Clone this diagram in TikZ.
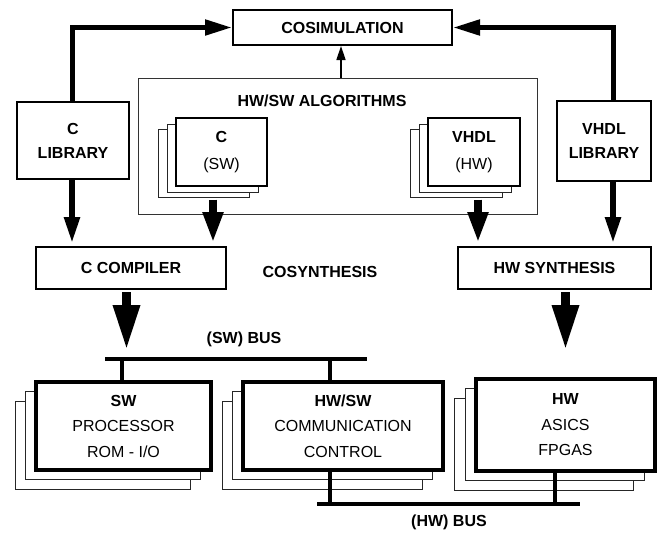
\documentclass[tikz,border=0pt]{standalone}
\usepackage{fontspec}
\setmainfont{Liberation Sans}
\usetikzlibrary{arrows.meta}
\begin{document}
\begin{tikzpicture}[x=1pt,y=-1pt,
  lbl/.style={font=\fontsize{16}{25}\selectfont\bfseries, align=center, inner sep=0pt},
  box/.style={draw, line width=2pt, fill=white, inner sep=0pt, align=center, font=\fontsize{16}{25}\selectfont},
  bigbox/.style={draw, line width=4pt, fill=white, inner sep=0pt, align=center, font=\fontsize{16}{25.5}\selectfont, minimum height=88},
  sbox/.style={draw=black!85, line width=1pt, fill=white, inner sep=0pt},
  elbow/.style={line width=5pt, -{Triangle[length=27pt,width=15pt]}},
  libdown/.style={line width=5.5pt, -{Triangle[length=26pt,width=15pt]}},
  midarrow/.style={line width=8pt, -{Triangle[length=31pt,width=19pt]}},
  fat/.style={line width=9pt, -{Triangle[length=45pt,width=25pt]}},
  thinarrow/.style={line width=1.5pt, -{Triangle[length=14pt,width=9pt]}},
  bus/.style={line width=4pt}
]
\useasboundingbox (0,0) rectangle (661,533);

% top
\node[box, minimum width=219, minimum height=35, font=\fontsize{16}{19}\selectfont\bfseries] (cosim) at (342.5,27.5) {COSIMULATION};
\node[box, minimum width=112, minimum height=77, font=\fontsize{16}{24}\selectfont\bfseries] (clib) at (73,140.5) {C\\LIBRARY};
\node[box, minimum width=94, minimum height=80, font=\fontsize{16}{24}\selectfont\bfseries] (vlib) at (604,141) {VHDL\\LIBRARY};

% algorithms frame
\node[draw=black!80, line width=0.8pt, minimum width=399, minimum height=136, inner sep=0pt] (alg) at (337.5,146) {};
\node[lbl] (algt) at (322,101) {HW/SW ALGORITHMS};

% C stack
\node[sbox, minimum width=91, minimum height=68] (cs3) at (203.5,163) {};
\node[sbox, minimum width=91, minimum height=68] (cs2) at (212.5,158) {};
\node[box, minimum width=91, minimum height=68, font=\fontsize{16}{27}\selectfont] (cs1) at (221.5,152) {\textbf{C}\\(SW)};

% VHDL stack
\node[sbox, minimum width=92, minimum height=68] (vs3) at (456,163) {};
\node[sbox, minimum width=92, minimum height=68] (vs2) at (465,158) {};
\node[box, minimum width=92, minimum height=68, font=\fontsize{16}{27}\selectfont] (vs1) at (474,152) {\textbf{VHDL}\\(HW)};

% synthesis row
\node[box, minimum width=190, minimum height=42, font=\fontsize{16}{25}\selectfont\bfseries] (ccomp) at (131,268) {C COMPILER};
\node[box, minimum width=193, minimum height=42, font=\fontsize{16}{25}\selectfont\bfseries] (hwsyn) at (554.5,268) {HW SYNTHESIS};
\node[lbl] (cosyn) at (320,272) {COSYNTHESIS};

% bottom stacks
\node[sbox, minimum width=175, minimum height=88] (sw3) at (102.5,445) {};
\node[sbox, minimum width=175, minimum height=88] (sw2) at (112.5,435) {};
\node[bigbox, minimum width=175] (sw1) at (123.5,426) {\textbf{SW}\\PROCESSOR\\ROM - I/O};

\node[sbox, minimum width=200, minimum height=88] (hs3) at (322,445) {};
\node[sbox, minimum width=200, minimum height=88] (hs2) at (332,435) {};
\node[bigbox, minimum width=200] (hs1) at (343,426) {\textbf{HW/SW}\\COMMUNICATION\\CONTROL};

\node[sbox, minimum width=179, minimum height=92] (hw3) at (544,444) {};
\node[sbox, minimum width=179, minimum height=92] (hw2) at (554.5,434.5) {};
\node[bigbox, minimum width=179, minimum height=92] (hw1) at (565.5,425) {\textbf{HW}\\ASICS\\FPGAS};

% buses
\coordinate (swL) at (105,359);
\coordinate (swR) at (367,359);
\coordinate (hwL) at (317,504);
\coordinate (hwR) at (580,504);
\draw[bus] (swL) -- (swR);
\draw[bus] (hwL) -- (hwR);
\draw[bus] ([xshift=-1.5pt]sw1.north) -- ([xshift=-1.5pt]sw1.north |- swL);
\draw[bus] ([xshift=-13pt]hs1.north) -- ([xshift=-13pt]hs1.north |- swL);
\draw[bus] ([xshift=-13pt]hs1.south) -- ([xshift=-13pt]hs1.south |- hwL);
\draw[bus] ([xshift=-10.5pt]hw1.south) -- ([xshift=-10.5pt]hw1.south |- hwL);
\node[lbl] (swbus) at (244,339) {(SW) BUS};
\node[lbl] (hwbus) at (449,522) {(HW) BUS};

% arrows
\draw[elbow] ([xshift=-1pt]clib.north) |- (cosim.west);
\draw[elbow] ([xshift=9pt]vlib.north) |- (cosim.east);
\draw[thinarrow] ([xshift=3.5pt]alg.north) -- ([xshift=3.5pt]alg.north |- cosim.south);
\draw[libdown, shorten >=3pt] ([xshift=-1pt]clib.south) -- ([xshift=-1pt]clib.south |- ccomp.north);
\draw[libdown, shorten >=3pt] ([xshift=9pt]vlib.south) -- ([xshift=9pt]vlib.south |- hwsyn.north);
\draw[midarrow, shorten >=3pt, shorten <=2pt] ([xshift=9.5pt]cs3.south) -- ([xshift=9.5pt]cs3.south |- ccomp.north);
\draw[midarrow, shorten >=3pt, shorten <=2pt] ([xshift=22pt]vs3.south) -- ([xshift=22pt]vs3.south |- hwsyn.north);
\coordinate (swtip) at (126.5,350);
\coordinate (hwtip) at (565.5,350);
\draw[fat, shorten <=2pt] (ccomp.south -| swtip) -- (swtip);
\draw[fat, shorten <=2pt] (hwsyn.south -| hwtip) -- (hwtip);
\end{tikzpicture}
\end{document}
